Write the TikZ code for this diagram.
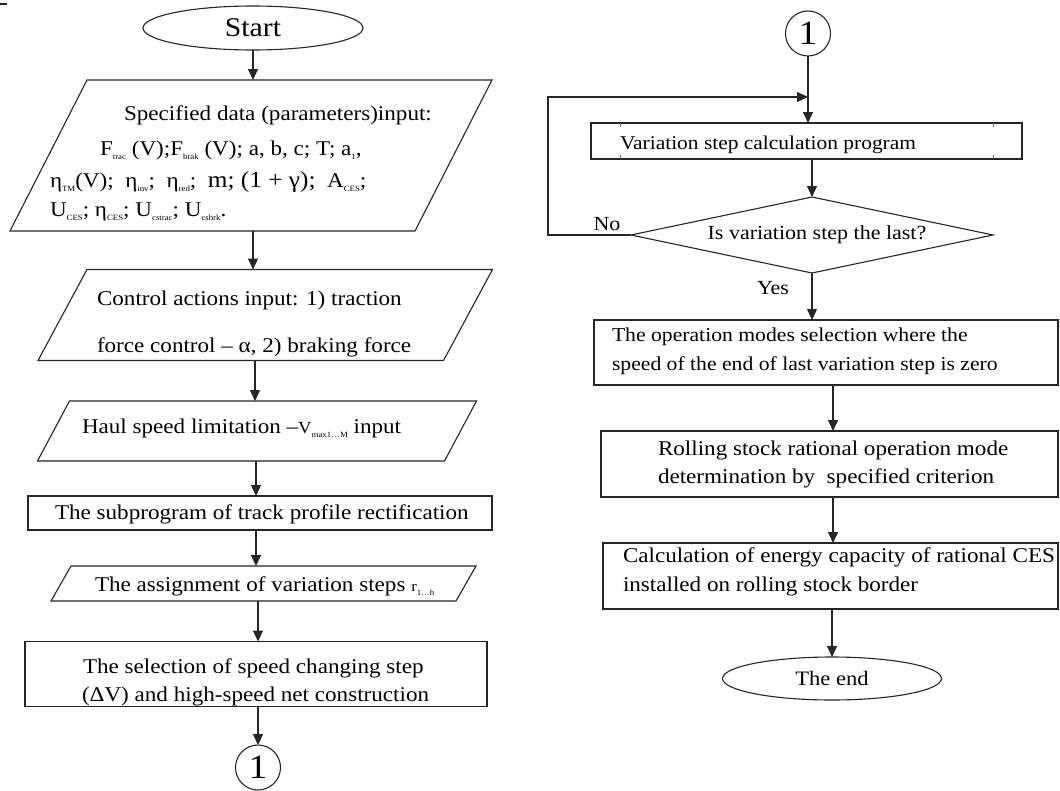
\documentclass[tikz,border=0pt]{standalone}
\usepackage{fontspec}
\setmainfont{Liberation Serif}[FakeStretch=1.1]
\usetikzlibrary{shapes.geometric,arrows.meta}

% small lowered index text
\newcommand{\sbs}[1]{\raisebox{-0.45ex}{\fontsize{8}{8}\selectfont #1}}
% outline of a slanted input box around an empty placeholder node
\newcommand{\slantframe}[2]{%
  \draw[frame] ([xshift=#2]#1.north west) -- ([xshift=#2]#1.north east)
    -- ([xshift=-#2]#1.south east) -- ([xshift=-#2]#1.south west) -- cycle;}

\begin{document}
\begin{tikzpicture}[x=1pt,y=-1pt,
  every node/.style={inner sep=0pt, outer sep=0pt},
  frame/.style={draw=black!85, line width=1.1pt},
  box/.style={frame, rectangle},
  ghost/.style={rectangle, draw=none},
  term/.style={frame, ellipse},
  joint/.style={frame, circle, minimum size=45pt, font=\fontsize{34}{34}\selectfont},
  decide/.style={frame, diamond},
  ltxt/.style={anchor=west, font=\fontsize{21}{25}\selectfont},
  rtxt/.style={anchor=west, font=\fontsize{20}{24}\selectfont},
  lbl/.style={font=\fontsize{20}{24}\selectfont},
  link/.style={draw=black!85, line width=1.1pt},
  arr/.style={link, -{Triangle[length=11pt,width=10pt]}},
  tick/.style={draw=black!60, line width=0.8pt},
]
\useasboundingbox (0,0) rectangle (1060,790);
\fill[white] (0,0) rectangle (1060,790);
\draw[link] (0,4) -- (7,4);

% spine positions of the left column
\coordinate (sA) at (253,0);
\coordinate (sB) at (255,0);
\coordinate (sC) at (256,0);
\coordinate (sD) at (258,0);

% ---------- left column ----------
\node[term, minimum width=220pt, minimum height=44pt, font=\fontsize{27}{27}\selectfont] (start) at (253,28) {Start};

\node[ghost, minimum width=405pt, minimum height=151pt] (p1) at (251,155.5) {};
\slantframe{p1}{38.5pt}
\node[ltxt] (p1a) at (124,115) {Specified data (parameters)input:};
\node[ltxt] (p1b) at (100,150) {F\sbs{trac} (V);F\sbs{brak} (V); a, b, c; T; a\sbs{1},};
\node[ltxt] (p1c) at (50,182) {η\sbs{TM}(V);\ \ η\sbs{inv};\ \ η\sbs{red};\ \ {\fontsize{23}{23}\selectfont m; (1 + γ);}\ \ A\sbs{CES};};
\node[ltxt] (p1d) at (50,212) {U\sbs{CES}; η\sbs{CES}; U\sbs{cstrac}; U\sbs{csbrk}.};

\node[ghost, minimum width=405.5pt, minimum height=91pt] (p2) at (265.25,315) {};
\slantframe{p2}{24.5pt}
\node[ltxt] (p2a) at (97,300) {Control actions input: 1) traction};
\node[ltxt] (p2b) at (97,347) {force control – α, 2) braking force};

\node[ghost, minimum width=407pt, minimum height=60pt] (p3) at (257,431) {};
\slantframe{p3}{16pt}
\node[ltxt] (p3a) at (82,428) {Haul speed limitation –{\fontsize{17}{17}\selectfont V}\sbs{max1…M} input};

\node[box, minimum width=464pt, minimum height=34pt] (r4) at (260,513) {};
\node[ltxt] (r4a) at (55,514) {The subprogram of track profile rectification};

\node[ghost, minimum width=405pt, minimum height=35pt] (p5) at (263.5,583.5) {};
\slantframe{p5}{10pt}
\node[ltxt] (p5a) at (95,586) {The assignment of variation steps {\fontsize{15}{15}\selectfont r}\sbs{1…h}};

\node[box, minimum width=462pt, minimum height=65pt] (r6) at (256,674) {};
\node[ltxt] (r6a) at (83,668) {The selection of speed changing step};
\node[ltxt] (r6b) at (82,696) {(ΔV) and high-speed net construction};

\node[joint] (c1) at (258,767.5) {1};

\draw[arr] (start.south) -- (start.south |- p1.north);
\draw[arr] (sA |- p1.south) -- (sA |- p2.north);
\draw[arr] (sB |- p2.south) -- (sB |- p3.north);
\draw[arr] (sC |- p3.south) -- (sC |- r4.north);
\draw[arr] (sC |- r4.south) -- (sC |- p5.north);
\draw[arr] (sD |- p5.south) -- (sD |- r6.north);
\draw[arr] (sD |- r6.south) -- (c1.north);

% ---------- right column ----------
\node[joint] (c2) at (808,33.5) {1};
\coordinate (m) at (808,97);

\node[box, minimum width=431pt, minimum height=36pt] (r7) at (806.5,141) {};
\draw[tick] ([xshift=29pt]r7.north west) -- ++(0,4);
\draw[tick] ([xshift=29pt]r7.south west) -- ++(0,-4);
\draw[tick] ([xshift=-29pt]r7.north east) -- ++(0,4);
\draw[tick] ([xshift=-29pt]r7.south east) -- ++(0,-4);
\node[rtxt, font=\fontsize{19.5}{24}\selectfont] (r7a) at (620,145) {Variation step calculation program};

\node[decide, minimum width=362pt, minimum height=76pt] (d8) at (812,235) {};
\node[lbl] (d8a) at (817,235) {Is variation step the last?};
\coordinate (lp) at (548,235);
\node[lbl] (no) at (607,224) {No};
\node[lbl] (yes) at (773,288) {Yes};

\node[box, minimum width=464pt, minimum height=65pt] (r9) at (826,352.5) {};
\node[rtxt, font=\fontsize{19.7}{24}\selectfont] (r9a) at (612,337) {The operation modes selection where the};
\node[rtxt, font=\fontsize{19.7}{24}\selectfont] (r9b) at (612,366) {speed of the end of last variation step is zero};

\node[box, minimum width=457pt, minimum height=66pt] (r10) at (829.5,464) {};
\node[rtxt, font=\fontsize{21}{25}\selectfont] (r10a) at (658,450) {Rolling stock rational operation mode};
\node[rtxt, font=\fontsize{21}{25}\selectfont] (r10b) at (658,478) {determination by\ \ specified criterion};

\node[box, minimum width=455pt, minimum height=66pt] (r11) at (830.5,576) {};
\node[rtxt, font=\fontsize{21}{25}\selectfont] (r11a) at (623,557) {Calculation of energy capacity of rational CES};
\node[rtxt, font=\fontsize{21}{25}\selectfont] (r11b) at (623,586) {installed on rolling stock border};

\node[term, minimum width=219pt, minimum height=43pt, font=\fontsize{20.5}{24}\selectfont] (fin) at (832,678.5) {The end};

\draw[link] (c2.south) -- (m);
\draw[arr] (m) -- (m |- r7.north);
\draw[arr] (d8.north |- r7.south) -- (d8.north);
\draw[arr] (d8.west) -- (lp) -- (lp |- m) -- (m);
\draw[arr] (d8.south) -- (d8.south |- r9.north);
\draw[arr] ([xshift=3.5pt]r10.north |- r9.south) -- ([xshift=3.5pt]r10.north);
\draw[arr] ([xshift=2.5pt]r11.north |- r10.south) -- ([xshift=2.5pt]r11.north);
\draw[arr] (fin.north |- r11.south) -- (fin.north);
\end{tikzpicture}
\end{document}
